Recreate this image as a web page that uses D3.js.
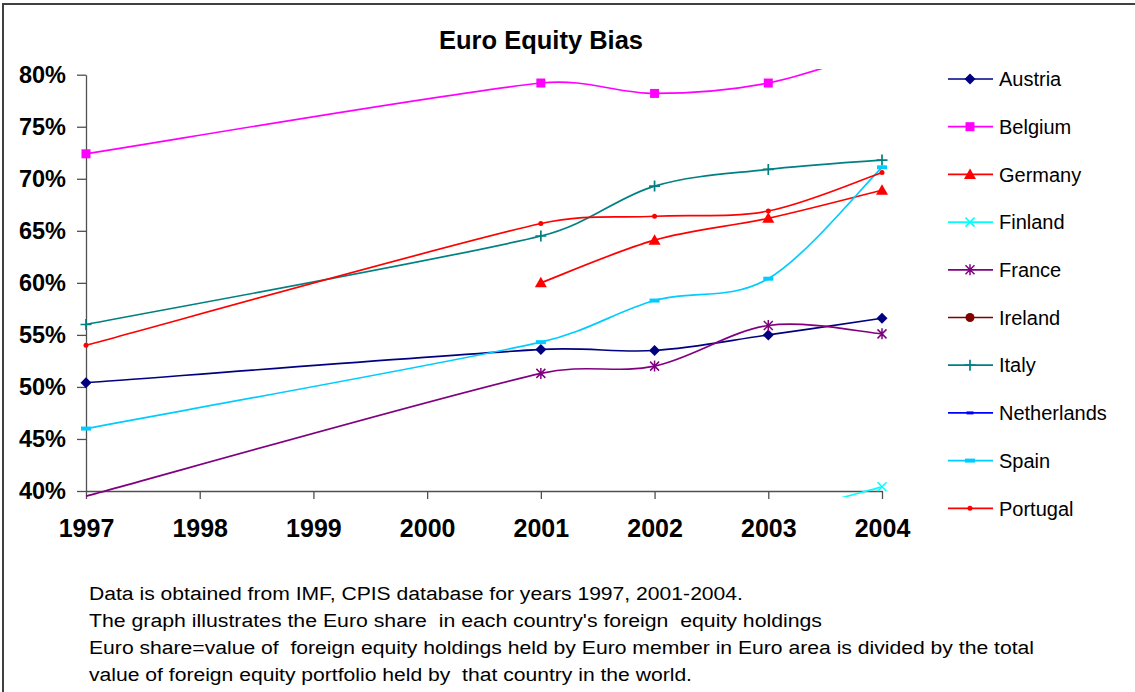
<!DOCTYPE html>
<html>
<head>
<meta charset="utf-8">
<script src="https://cdn.jsdelivr.net/npm/d3@7"></script>
<style>
  body { margin: 0; background: #fff; }
  svg { display: block; font-family: "Liberation Sans", Arial, sans-serif; }
</style>
</head>
<body>
<svg id="chart" width="1135" height="692"></svg>
<script>
// data (percent); null = no value
const years = [1997, 2001, 2002, 2003, 2004];
const countries = ["Austria", "Belgium", "Germany", "Finland", "France",
                   "Ireland", "Italy", "Netherlands", "Spain", "Portugal"];
const austria     = [50.4, 53.6, 53.5, 55.0, 56.6];
const belgium     = [72.4, 79.2, 78.2, 79.2, 82.5];
const germany     = [null, 60.0, 64.1, 66.2, 68.9];
const finland     = [30.0, 33.0, 35.0, 37.5, 40.4];
const france      = [39.5, 51.3, 52.0, 55.9, 55.1];
const ireland     = [28.0, 30.0, 31.0, 32.0, 33.0];
const italy       = [56.0, 64.5, 69.3, 70.9, 71.8];
const netherlands = [33.0, 35.0, 36.0, 37.0, 38.0];
const spain       = [46.0, 54.3, 58.3, 60.4, 71.1];
const portugal    = [54.0, 65.7, 66.4, 66.9, 70.6];
const yTicks = [40, 45, 50, 55, 60, 65, 70, 75, 80];
const xTicks = [1997, 1998, 1999, 2000, 2001, 2002, 2003, 2004];
const notes = [
  "Data is obtained from IMF, CPIS database for years 1997, 2001-2004.",
  "The graph illustrates the Euro share  in each country's foreign  equity holdings",
  "Euro share=value of  foreign equity holdings held by Euro member in Euro area is divided by the total",
  "value of foreign equity portfolio held by  that country in the world."
];
// rendered width of each note line in the original (it uses a wide font)
const noteWidths = [654, 733, 945, 603];

const values = [austria, belgium, germany, finland, france, ireland, italy, netherlands, spain, portugal];
const colors = ["#000080", "#ff00ff", "#ff0000", "#00ffff", "#800080",
                "#800000", "#008080", "#0000ff", "#00ccff", "#ff0000"];
const markers = ["diamond", "square", "triangle", "x", "star",
                 "circle", "plus", "dashS", "dashL", "dot"];

const series = countries.map((name, i) => ({
  name: name,
  color: colors[i],
  marker: markers[i],
  points: years.map((yr, j) => ({ year: yr, value: values[i][j] }))
}));

const svg = d3.select("#chart");

// outer chart border
svg.append("rect")
  .attr("x", 3).attr("y", 4)
  .attr("width", 1145).attr("height", 700)
  .attr("fill", "none")
  .attr("stroke", "#404040")
  .attr("stroke-width", 2);

svg.append("text")
  .attr("x", 541).attr("y", 49)
  .attr("text-anchor", "middle")
  .style("font-size", "25.5px")
  .style("font-weight", "bold")
  .text("Euro Equity Bias");

var x = d3.scaleLinear().domain([1997, 2004]).range([86, 882]);
var y = d3.scaleLinear().domain([40, 80]).range([491, 74.7]);

// y axis
svg.append("g")
  .attr("class", "y axis")
  .attr("transform", "translate(86,0)")
  .call(d3.axisLeft(y).tickValues(yTicks).tickSizeInner(9).tickSizeOuter(0)
    .tickPadding(11).tickFormat(d => d + "%"));

// x axis
svg.append("g")
  .attr("class", "x axis")
  .attr("transform", "translate(0,491)")
  .call(d3.axisBottom(x).tickValues(xTicks).tickSizeInner(8).tickSizeOuter(0)
    .tickPadding(20).tickFormat(d3.format("d")));

svg.selectAll(".axis path, .axis line")
  .attr("stroke", "#505050")
  .attr("stroke-width", 1.3);
svg.selectAll(".y.axis text")
  .style("font-size", "23.5px").style("font-weight", "bold")
  .attr("fill", "#000").attr("font-family", null);
svg.selectAll(".x.axis text")
  .style("font-size", "25px").style("font-weight", "bold")
  .attr("fill", "#000").attr("font-family", null);

// clip a little beyond the plot area, like the original
svg.append("clipPath").attr("id", "plotclip")
  .append("rect")
  .attr("x", 80).attr("y", 69)
  .attr("width", 808).attr("height", 428);

// Excel-like smoothing: catmull-rom tangents, arms capped on short segments
function smoothLine(pts) {
  var p = d3.path();
  var k = 0.4;
  function arm(a, b, seg) {
    var dx = (b[0] - a[0]) / 6, dy = (b[1] - a[1]) / 6;
    var len = Math.hypot(dx, dy), cap = seg * k;
    if (len > cap) { dx *= cap / len; dy *= cap / len; }
    return [dx, dy];
  }
  p.moveTo(pts[0][0], pts[0][1]);
  for (let i = 0; i < pts.length - 1; i++) {
    var p0 = pts[i - 1] || pts[i], p1 = pts[i], p2 = pts[i + 1], p3 = pts[i + 2] || pts[i + 1];
    var seg = Math.hypot(p2[0] - p1[0], p2[1] - p1[1]);
    var a1 = arm(p0, p2, seg), a2 = arm(p1, p3, seg);
    p.bezierCurveTo(p1[0] + a1[0], p1[1] + a1[1], p2[0] - a2[0], p2[1] - a2[1], p2[0], p2[1]);
  }
  return p.toString();
}

var plot = svg.append("g").attr("clip-path", "url(#plotclip)");

plot.selectAll(".series")
  .data(series)
  .enter().append("path")
  .attr("class", "series")
  .attr("d", d => smoothLine(d.points.filter(p => p.value != null).map(p => [x(p.year), y(p.value)])))
  .attr("fill", "none")
  .attr("stroke", d => d.color)
  .attr("stroke-width", 1.7);

// marker shapes
function drawMarker(g, type, color) {
  if (type == "diamond") {
    g.append("path").attr("d", "M0,-5.5L5.5,0L0,5.5L-5.5,0Z").attr("fill", color);
  } else if (type == "square") {
    g.append("rect").attr("x", -4.5).attr("y", -4.5).attr("width", 9).attr("height", 9).attr("fill", color);
  } else if (type == "triangle") {
    g.append("path").attr("d", "M0,-6L6,4.5L-6,4.5Z").attr("fill", color);
  } else if (type == "x") {
    g.append("path").attr("d", "M-4.5,-4.5L4.5,4.5M-4.5,4.5L4.5,-4.5")
      .attr("stroke", color).attr("stroke-width", 1.5);
  } else if (type == "star") {
    g.append("path").attr("d", "M-4.5,-4.5L4.5,4.5M-4.5,4.5L4.5,-4.5M0,-5.5L0,5.5")
      .attr("stroke", color).attr("stroke-width", 1.5);
  } else if (type == "circle") {
    g.append("circle").attr("r", 4.5).attr("fill", color);
  } else if (type == "plus") {
    g.append("path").attr("d", "M-5.5,0L5.5,0M0,-5.5L0,5.5")
      .attr("stroke", color).attr("stroke-width", 1.7);
  } else if (type == "dashS") {
    g.append("rect").attr("x", -3.5).attr("y", -1.5).attr("width", 7).attr("height", 3).attr("fill", color);
  } else if (type == "dashL") {
    g.append("rect").attr("x", -5).attr("y", -2).attr("width", 10).attr("height", 4).attr("fill", color);
  } else if (type == "dot") {
    g.append("circle").attr("r", 2.5).attr("fill", color);
  }
}

// markers only for values inside the axis range
series.forEach(s => {
  s.points.filter(p => p.value != null && p.value >= 40 && p.value <= 80).forEach(p => {
    var g = svg.append("g").attr("transform", `translate(${x(p.year)},${y(p.value)})`);
    drawMarker(g, s.marker, s.color);
  });
});

// legend
var legend = svg.append("g").attr("class", "legend");
series.forEach((s, i) => {
  var ly = 79 + i * 47.7;
  legend.append("line")
    .attr("x1", 948).attr("x2", 993)
    .attr("y1", ly).attr("y2", ly)
    .attr("stroke", s.color).attr("stroke-width", 1.7);
  var g = legend.append("g").attr("transform", `translate(970,${ly})`);
  drawMarker(g, s.marker, s.color);
  legend.append("text")
    .attr("x", 999).attr("y", ly)
    .attr("dy", "0.36em")
    .style("font-size", "20px")
    .text(s.name);
});

// footnote
svg.append("g").selectAll("text")
  .data(notes).enter()
  .append("text")
  .attr("x", 89)
  .attr("y", (d, i) => 600 + i * 27)
  .attr("textLength", (d, i) => noteWidths[i])
  .attr("lengthAdjust", "spacingAndGlyphs")
  .style("font-size", "18px")
  .style("white-space", "pre")
  .text(d => d);
</script>
</body>
</html>
